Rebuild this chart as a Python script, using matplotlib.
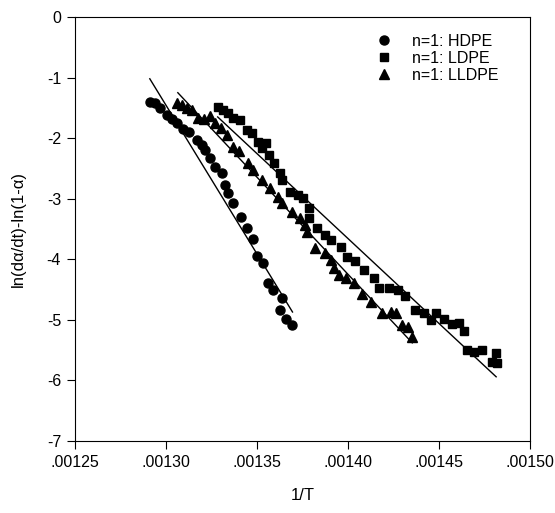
import matplotlib
matplotlib.use("Agg")
import matplotlib.pyplot as plt
from matplotlib.ticker import FuncFormatter, MultipleLocator

plt.rcParams['font.family'] = ['Liberation Sans', 'DejaVu Sans']

# ---- data ----
hdpe_x = [0.0012911, 0.0012939, 0.0012966, 0.0013004, 0.0013032, 0.0013059, 0.0013092,
          0.0013125, 0.0013169, 0.0013196, 0.0013213, 0.0013240, 0.0013268, 0.0013306,
          0.0013322, 0.0013339, 0.0013366, 0.0013410, 0.0013443, 0.0013476, 0.0013498,
          0.0013531, 0.0013558, 0.0013586, 0.0013640, 0.0013624, 0.0013662, 0.0013690]
hdpe_y = [-1.40, -1.42, -1.50, -1.62, -1.68, -1.75, -1.85,
          -1.90, -2.03, -2.11, -2.20, -2.33, -2.48, -2.58,
          -2.77, -2.91, -3.07, -3.30, -3.48, -3.67, -3.95,
          -4.06, -4.39, -4.51, -4.64, -4.84, -4.99, -5.08]

ldpe_x = [0.0013284, 0.0013311, 0.0013339, 0.0013366, 0.0013405, 0.0013443, 0.0013470,
          0.0013503, 0.0013525, 0.0013547, 0.0013564, 0.0013591, 0.0013624, 0.0013640,
          0.0013679, 0.0013723, 0.0013750, 0.0013783, 0.0013788, 0.0013827, 0.0013871,
          0.0013909, 0.0013964, 0.0013997, 0.0014041, 0.0014090, 0.0014145, 0.0014172,
          0.0014227, 0.0014276, 0.0014315, 0.0014370, 0.0014419, 0.0014457, 0.0014485,
          0.0014528, 0.0014572, 0.0014611, 0.0014638, 0.0014655, 0.0014693, 0.0014737,
          0.0014814, 0.0014792, 0.0014819]
ldpe_y = [-1.49, -1.54, -1.58, -1.67, -1.70, -1.87, -1.92,
          -2.06, -2.16, -2.08, -2.28, -2.41, -2.58, -2.69,
          -2.89, -2.94, -2.99, -3.15, -3.32, -3.48, -3.60,
          -3.68, -3.80, -3.96, -4.03, -4.18, -4.31, -4.48,
          -4.48, -4.51, -4.61, -4.84, -4.89, -5.00, -4.89,
          -4.99, -5.07, -5.05, -5.18, -5.50, -5.53, -5.50,
          -5.55, -5.70, -5.72]

lldpe_x = [0.0013059, 0.0013087, 0.0013114, 0.0013141, 0.0013174, 0.0013207, 0.0013240,
           0.0013268, 0.0013300, 0.0013333, 0.0013366, 0.0013399, 0.0013448, 0.0013476,
           0.0013525, 0.0013569, 0.0013613, 0.0013635, 0.0013690, 0.0013734, 0.0013761,
           0.0013777, 0.0013816, 0.0013871, 0.0013909, 0.0013925, 0.0013953, 0.0013991,
           0.0014035, 0.0014079, 0.0014128, 0.0014189, 0.0014238, 0.0014265, 0.0014298,
           0.0014331, 0.0014353]
lldpe_y = [-1.42, -1.45, -1.50, -1.54, -1.67, -1.68, -1.63,
           -1.75, -1.83, -1.95, -2.15, -2.21, -2.41, -2.52,
           -2.69, -2.82, -2.97, -3.07, -3.22, -3.32, -3.43,
           -3.55, -3.82, -3.90, -4.02, -4.14, -4.26, -4.31,
           -4.39, -4.57, -4.70, -4.89, -4.87, -4.89, -5.08,
           -5.12, -5.28]

# fitted lines (end points)
hdpe_fit_x = [0.0012911, 0.0013695]
hdpe_fit_y = [-1.02, -4.87]
ldpe_fit_x = [0.0013284, 0.0014814]
ldpe_fit_y = [-1.65, -5.94]
lldpe_fit_x = [0.0013065, 0.0014353]
lldpe_fit_y = [-1.25, -5.38]

labels = ['n=1: HDPE', 'n=1: LDPE', 'n=1: LLDPE']

# ---- figure ----
fig = plt.figure(figsize=(5.55, 5.13), dpi=100)
ax = fig.add_axes([75/555, 72/513, 455/555, 424/513])

ax.plot(hdpe_fit_x, hdpe_fit_y, color='black', lw=1.0)
ax.plot(ldpe_fit_x, ldpe_fit_y, color='black', lw=1.0)
ax.plot(lldpe_fit_x, lldpe_fit_y, color='black', lw=1.0)

ax.plot(hdpe_x, hdpe_y, 'o', color='black', ms=6.5, ls='none', label=labels[0])
ax.plot(ldpe_x, ldpe_y, 's', color='black', ms=6.0, ls='none', label=labels[1])
ax.plot(lldpe_x, lldpe_y, '^', color='black', ms=6.5, ls='none', label=labels[2])

ax.set_xlim(0.00125, 0.00150)
ax.set_ylim(-7, 0)
ax.xaxis.set_major_locator(MultipleLocator(0.00005))
ax.yaxis.set_major_locator(MultipleLocator(1))
ax.xaxis.set_major_formatter(FuncFormatter(lambda v, p: f"{v:.5f}".lstrip('0')))
ax.yaxis.set_major_formatter(FuncFormatter(lambda v, p: f"{int(round(v))}"))
ax.tick_params(axis='both', direction='out', length=6, width=0.8, labelsize=11.5, pad=4)
ax.tick_params(top=False, right=False)
for s in ax.spines.values():
    s.set_linewidth(0.8)

ax.set_xlabel('1/T', fontsize=12, labelpad=13)
ax.set_ylabel('ln(d\u03b1/dt)-ln(1-\u03b1)', fontsize=12, labelpad=15)

leg = ax.legend(loc='upper left', bbox_to_anchor=(374/555, 1 - 34/513),
                bbox_transform=fig.transFigure, frameon=False, fontsize=11.5,
                handlelength=1.2, handletextpad=1.2, labelspacing=0.12,
                borderpad=0, borderaxespad=0)

fig.savefig('out.png', dpi=100)
